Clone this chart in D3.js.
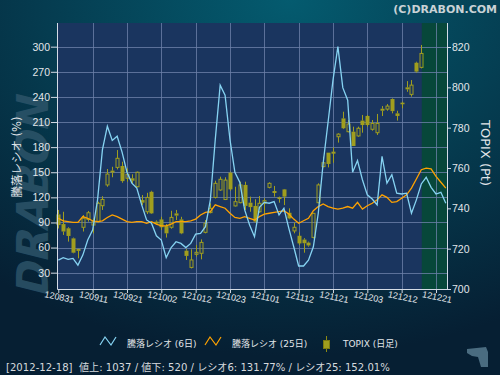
<!DOCTYPE html>
<html>
<head>
<meta charset="utf-8">
<script src="https://cdn.jsdelivr.net/npm/d3@7"></script>
<style>
body { margin: 0; background: #061f33; }
svg { display: block; font-family: "DejaVu Sans", "Noto Sans CJK JP", sans-serif; }
</style>
</head>
<body>
<div id="chart"></div>
<script>
// 騰落レシオ 6日 / 25日 (%), one value per trading day from 2012-08-31
var ratio6 = [45,48,46,47,39,51,69,81,117,177, 205,188,193,174,150,137,131,111,93,89,
  74,69,48,60,67,65,60,65,76,77, 85,117,189,254,242,189,150,138,105,87,
  73,108,114,113,115,99,107,83,61,38, 38,45,61,101,161,210,260,300,251,236,
  150,164,141,123,118,111,169,137,147,125, 124,125,101,117,136,144,132,124,126,113];
var ratio25 = [95,92,91,90,90,97,95,92,91,92, 96,99,97,94,91,90,91,91,89,91,
  88,86,86,88,91,91,91,92,94,99, 102,103,111,109,107,101,96,95,97,95,
  93,97,100,101,102,103,104,100,94,89, 92,95,104,109,112,109,107,106,107,109,
  107,114,106,110,113,117,123,120,114,115, 119,123,131,142,153,155,154,145,138,131];

// TOPIX daily candles (Pt)
var topixOpen = [737.0,732.2,730.1,725.1,719.9,730.6,734.5,731.7,733.4,741.3,
  751.6,758.7,760.3,761.0,754.9,754.9,750.7,744.1,738.3,748.2,
  733.4,734.5,731.2,730.6,737.5,734.5,719.0,710.7,717.2,717.7,
  728.1,737.9,745.4,749.1,744.4,757.7,741.2,742.8,751.6,742.8,
  741.2,738.3,742.5,750.4,748.6,745.5,749.4,737.8,728.8,726.4,
  724.5,723.0,725.6,742.8,760.7,767.6,768.1,775.5,784.6,778.0,
  778.0,775.9,783.5,785.8,779.2,777.5,789.4,789.2,794.2,787.1,
  792.4,800.0,796.5,812.2,809.9];
var topixHigh = [739.2,738.3,730.6,725.5,720.0,736.7,738.7,735.1,743.3,746.0,
  759.5,760.6,768.9,763.1,759.8,756.9,758.2,746.6,747.7,748.7,
  734.0,735.8,732.2,738.8,739.2,735.8,719.8,719.7,721.8,724.6,
  734.2,742.5,753.7,755.7,755.4,758.2,750.7,753.2,753.2,745.8,
  744.5,746.1,745.0,752.9,751.1,745.8,749.6,740.0,732.9,728.1,
  725.2,723.5,737.8,752.4,765.6,767.6,770.2,777.2,787.9,783.8,
  780.5,780.5,786.3,786.3,783.8,786.8,790.7,791.7,794.5,788.4,
  792.9,803.1,803.6,812.7,821.0];
var topixLow = [730.0,726.8,723.5,717.7,715.2,728.5,733.4,727.6,732.9,739.2,
  750.7,755.4,759.3,752.7,753.2,752.4,750.4,741.6,737.2,737.2,
  731.9,729.3,725.5,729.9,734.2,727.2,714.4,710.2,716.0,714.7,
  727.6,737.5,744.9,748.7,744.1,748.7,740.9,742.5,739.2,738.3,
  732.9,737.8,737.5,749.9,745.8,742.8,741.6,734.6,727.6,721.8,
  718.0,721.0,725.1,742.5,760.3,760.3,762.6,772.6,779.3,777.7,
  770.9,775.5,777.5,780.5,778.5,776.4,785.8,788.4,787.1,783.5,
  789.6,797.8,795.4,807.3,809.4];
var topixClose = [731.7,728.5,726.3,718.0,718.9,735.1,737.8,733.4,742.5,744.4,
  757.0,757.7,764.8,753.5,756.9,753.7,757.9,742.8,745.4,737.5,
  732.4,730.6,727.6,735.5,736.4,727.6,716.4,714.4,718.2,723.1,
  732.6,740.0,752.4,754.4,754.0,749.4,743.3,751.6,741.2,740.6,
  733.4,742.5,743.8,752.4,747.6,744.6,745.8,735.0,730.6,722.6,
  722.7,721.6,737.5,751.6,762.6,762.0,767.1,776.8,779.7,781.8,
  770.9,779.7,781.3,781.3,782.1,782.1,788.4,790.7,788.2,785.8,
  791.6,799.0,801.1,807.8,816.8];

// x axis: one label every 7 trading days
var xTickLabels = ["120831","120911","120921","121002","121012","121023",
  "121101","121112","121121","121203","121212","121221"];
var xTickStep = 7;
var leftTicks = [30,60,90,120,150,180,210,240,270,300];
var rightTicks = [700,720,740,760,780,800,820];

var legendLabels = ["騰落レシオ (6日)", "騰落レシオ (25日)", "TOPIX (日足)"];
var infoText = "[2012-12-18]  値上: 1037 / 値下: 520 / レシオ6: 131.77% / レシオ25: 152.01%";

var margin = {top: 23, right: 53, bottom: 86, left: 57};
var width = 500 - margin.left - margin.right,
    height = 375 - margin.top - margin.bottom;

var svg = d3.select("#chart").append("svg")
  .attr("width", 500)
  .attr("height", 375);

var defs = svg.append("defs");
var grad = defs.append("radialGradient").attr("id", "bg")
  .attr("cx", "58%").attr("cy", "0%").attr("r", "95%");
grad.append("stop").attr("offset", "0%").attr("stop-color", "#045b6f");
grad.append("stop").attr("offset", "100%").attr("stop-color", "#061f33");

svg.append("rect").attr("width", 500).attr("height", 375).attr("fill", "url(#bg)");

// watermark
svg.append("text")
  .attr("transform", "translate(48,198) rotate(-90) skewX(-14)")
  .attr("text-anchor", "middle")
  .attr("font-size", 44)
  .attr("font-weight", "bold")
  .attr("textLength", 200)
  .attr("lengthAdjust", "spacingAndGlyphs")
  .attr("fill", "#2f566b")
  .attr("opacity", 0.8)
  .text("DRABON");

svg.append("text")
  .attr("x", 497).attr("y", 13)
  .attr("text-anchor", "end")
  .attr("font-size", 11)
  .attr("font-weight", "bold")
  .attr("fill", "#c9d2d6")
  .text("(C)DRABON.COM");

var x = d3.scaleLinear()
  .domain([0, ratio6.length - 1])
  .range([1.3, 388.8]);

var yL = d3.scaleLinear()
  .domain([10.5, 328.3])
  .range([height, 0]);

var yR = d3.scaleLinear()
  .domain([700, 831.9])
  .range([height, 0]);

var g = svg.append("g")
  .attr("transform", "translate(" + margin.left + "," + margin.top + ")");

g.append("rect")
  .attr("width", width)
  .attr("height", height)
  .attr("fill", "#1a355f");

var lastCandle = topixClose.length - 1;
g.append("rect")
  .attr("x", x(lastCandle) + 0.5)
  .attr("width", width - x(lastCandle) - 0.5)
  .attr("height", height)
  .attr("fill", "#07473a");

// grid
var tickIdx = xTickLabels.map(function(d, i) { return i * xTickStep; });

g.append("g")
  .selectAll("line")
  .data(leftTicks)
  .enter().append("line")
  .attr("x1", 0).attr("x2", width)
  .attr("y1", function(d) { return Math.round(yL(d)) + 0.5; })
  .attr("y2", function(d) { return Math.round(yL(d)) + 0.5; })
  .attr("stroke", "#6b80a8")
  .attr("stroke-opacity", 0.8);

g.append("g")
  .selectAll("line")
  .data(tickIdx.slice(1))
  .enter().append("line")
  .attr("x1", function(d) { return Math.round(x(d)) + 0.5; })
  .attr("x2", function(d) { return Math.round(x(d)) + 0.5; })
  .attr("y1", 0).attr("y2", height)
  .attr("stroke", "#6b80a8")
  .attr("stroke-opacity", 0.8);

// candles
var candles = topixOpen.map(function(o, i) {
  return {i: i, o: o, h: topixHigh[i], l: topixLow[i], c: topixClose[i]};
});
var candleCol = "#a09e1e";

var cg = g.append("g").selectAll("g")
  .data(candles)
  .enter().append("g");

cg.append("line")
  .attr("x1", function(d) { return Math.round(x(d.i)) + 0.5; })
  .attr("x2", function(d) { return Math.round(x(d.i)) + 0.5; })
  .attr("y1", function(d) { return yR(d.h); })
  .attr("y2", function(d) { return yR(Math.max(d.o, d.c)); })
  .attr("stroke", candleCol);

cg.append("line")
  .attr("x1", function(d) { return Math.round(x(d.i)) + 0.5; })
  .attr("x2", function(d) { return Math.round(x(d.i)) + 0.5; })
  .attr("y1", function(d) { return yR(Math.min(d.o, d.c)); })
  .attr("y2", function(d) { return yR(d.l); })
  .attr("stroke", candleCol);

cg.append("rect")
  .attr("x", function(d) { return Math.round(x(d.i)) - (d.c < d.o ? 1.5 : 1); })
  .attr("y", function(d) { return yR(Math.max(d.o, d.c)); })
  .attr("width", function(d) { return d.c < d.o ? 4 : 3; })
  .attr("height", function(d) { return Math.max(1, Math.abs(yR(d.o) - yR(d.c))); })
  .attr("fill", function(d) { return d.c < d.o ? candleCol : "none"; })
  .attr("stroke", function(d) { return d.c < d.o ? "none" : candleCol; });

// ratio lines
var line = d3.line()
  .x(function(d, i) { return x(i); })
  .y(function(d) { return yL(d); });

g.append("path")
  .datum(ratio25)
  .attr("fill", "none")
  .attr("stroke", "#ffa200")
  .attr("stroke-width", 1.3)
  .attr("d", line);

g.append("path")
  .datum(ratio6)
  .attr("fill", "none")
  .attr("stroke", "#86d3f2")
  .attr("stroke-width", 1.3)
  .attr("d", line);

// axes
var axisCol = "#d4dbe6", textCol = "#e2e6ea";

var xAxis = g.append("g")
  .attr("transform", "translate(0," + height + ")")
  .call(d3.axisBottom(x).tickValues(tickIdx).tickSize(4)
    .tickFormat(function(d, i) { return xTickLabels[i]; }));
xAxis.select(".domain").remove();
xAxis.selectAll("line").attr("stroke", axisCol);
xAxis.selectAll("text")
  .attr("y", null).attr("dy", null)
  .attr("transform", "translate(0,11) rotate(12)")
  .attr("font-size", 9)
  .attr("fill", textCol);

var lAxis = g.append("g")
  .call(d3.axisLeft(yL).tickValues(leftTicks).tickSize(6).tickPadding(1));
lAxis.select(".domain").remove();
lAxis.selectAll("line").attr("stroke", axisCol);
lAxis.selectAll("text").attr("font-size", 10.5).attr("fill", textCol);

var rAxis = g.append("g")
  .attr("transform", "translate(" + width + ",0)")
  .call(d3.axisRight(yR).tickValues(rightTicks).tickSize(4).tickPadding(1));
rAxis.select(".domain").remove();
rAxis.selectAll("line").attr("stroke", axisCol);
rAxis.selectAll("text").attr("font-size", 10.5).attr("fill", textCol);

// frame lines
g.append("path")
  .attr("d", "M0.5,0V" + (height + 0.5) + "H" + (width + 0.5) + "V0")
  .attr("fill", "none")
  .attr("stroke", axisCol);

svg.append("text")
  .attr("transform", "translate(17,157) rotate(-90)")
  .attr("text-anchor", "middle")
  .attr("dy", "0.35em")
  .attr("font-size", 11.5)
  .attr("fill", textCol)
  .text("騰落レシオ (%)");

svg.append("text")
  .attr("transform", "translate(486,153) rotate(90)")
  .attr("text-anchor", "middle")
  .attr("dy", "0.35em")
  .attr("font-size", 13)
  .attr("fill", textCol)
  .text("TOPIX (Pt)");

// legend
var legend = svg.append("g").attr("font-size", 9).attr("fill", textCol);

legend.append("polyline")
  .attr("points", "100,345 105,337 111,345 116,337")
  .attr("fill", "none").attr("stroke", "#86d3f2").attr("stroke-width", 1.2);
legend.append("text").attr("x", 127).attr("y", 347).text(legendLabels[0]);

legend.append("polyline")
  .attr("points", "205,345 210,337 216,345 221,337")
  .attr("fill", "none").attr("stroke", "#ffa200").attr("stroke-width", 1.2);
legend.append("text").attr("x", 232).attr("y", 347).text(legendLabels[1]);

legend.append("line")
  .attr("x1", 326.5).attr("x2", 326.5).attr("y1", 336).attr("y2", 352)
  .attr("stroke", "#8c8a14");
legend.append("rect")
  .attr("x", 323.5).attr("y", 340.5).attr("width", 6).attr("height", 8)
  .attr("fill", candleCol).attr("stroke", "#7c7a10");
legend.append("text").attr("x", 343).attr("y", 347).text(legendLabels[2]);

svg.append("text")
  .attr("x", 6).attr("y", 371)
  .attr("font-size", 10.1)
  .attr("fill", "#d6dade")
  .style("white-space", "pre")
  .text(infoText);

// small pointer icon, bottom right
svg.append("path")
  .attr("d", "M467,349 L486,347 L488,352 L488,367 L481,367 L478,357 L472,356 L467,353 Z")
  .attr("fill", "#4a6c80");
</script>
</body>
</html>
